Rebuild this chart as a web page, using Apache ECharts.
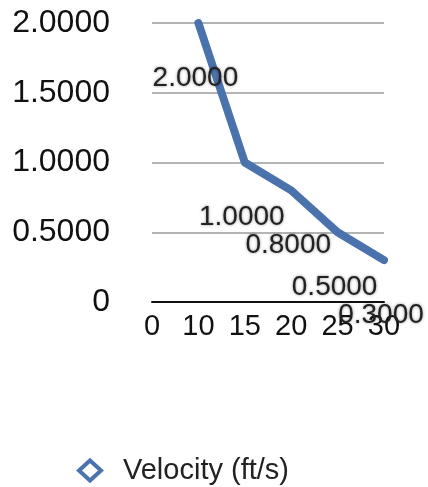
<!DOCTYPE html>
<html>
<head>
<meta charset="utf-8">
<script src="https://cdn.jsdelivr.net/npm/echarts@6/dist/echarts.min.js"></script>
<style>
  html, body { margin: 0; padding: 0; background: #fff; }
  #chart { width: 428px; height: 487px; }
</style>
</head>
<body>
<div id="chart"></div>
<script>
// time (x) and velocity values
var times = ['0', '10', '15', '20', '25', '30'];
var velocity = [null, 2.0, 1.0, 0.8, 0.5, 0.3];
var seriesName = 'Velocity (ft/s)';

var chart = echarts.init(document.getElementById('chart'));

var option = {
    animation: false,
    grid: {
        left: 152,
        right: 44,
        top: 23,
        bottom: 185
    },
    legend: {
        data: [seriesName],
        icon: 'diamond',
        left: 72,
        top: 451,
        itemWidth: 22,
        itemHeight: 20,
        itemStyle: { color: '#fff', borderColor: '#4a72ad', borderWidth: 4 },
        textStyle: {
            fontFamily: 'Liberation Sans',
            fontSize: 29,
            color: '#222',
            padding: [0, 0, 0, 17]
        }
    },
    xAxis: {
        type: 'category',
        data: times,
        boundaryGap: false,
        axisLine: { lineStyle: { color: '#111', width: 2 } },
        axisTick: { show: false },
        axisLabel: {
            margin: 10,
            fontFamily: 'Liberation Sans',
            fontSize: 29,
            color: '#111'
        },
        splitLine: { show: false }
    },
    yAxis: {
        type: 'value',
        min: 0,
        max: 2,
        interval: 0.5,
        axisLine: { show: false },
        axisTick: { show: false },
        axisLabel: {
            margin: 42,
            fontFamily: 'Liberation Sans',
            fontSize: 32,
            color: '#111',
            formatter: function (v) {
                return v === 0 ? '0' : v.toFixed(4);
            }
        },
        splitLine: { lineStyle: { color: '#b4b4b4', width: 2 } }
    },
    series: [{
        name: seriesName,
        type: 'line',
        data: velocity,
        symbol: 'emptyDiamond',
        symbolSize: 0.1,
        showSymbol: true,
        itemStyle: { color: '#4a72ad', borderWidth: 3 },
        lineStyle: { color: '#4a72ad', width: 8, cap: 'round', join: 'round' },
        label: {
            show: true,
            position: 'bottom',
            distance: 40,
            offset: [-3, 0],
            fontFamily: 'Liberation Sans',
            fontSize: 28,
            color: '#222',
            textShadowColor: 'rgba(0,0,0,0.45)',
            textShadowBlur: 3,
            formatter: function (p) {
                return p.value.toFixed(4);
            }
        }
    }]
};

chart.setOption(option);
</script>
</body>
</html>
